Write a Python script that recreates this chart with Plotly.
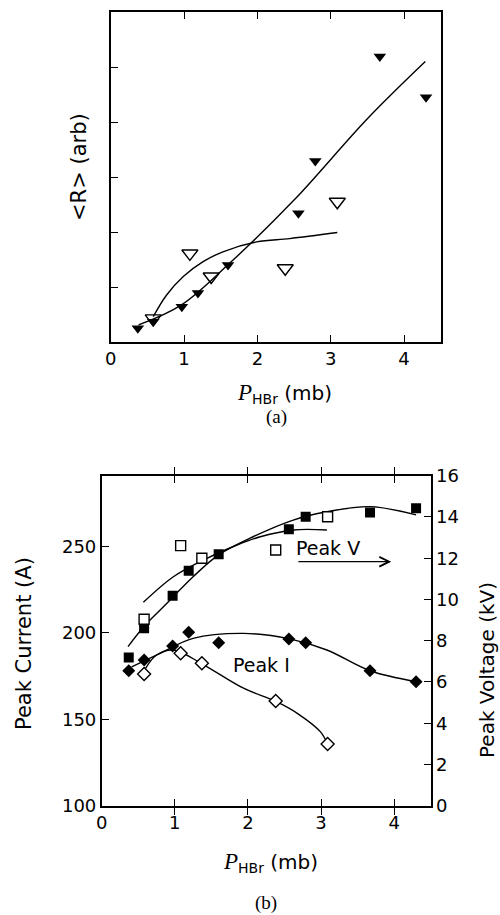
import plotly.graph_objects as go

# ---------------- data: panel (a) ----------------
p_filled = [0.37, 0.58, 0.97, 1.19, 1.60, 2.56, 2.79, 3.67, 4.30]
r_filled = [0.25, 0.37, 0.64, 0.89, 1.40, 2.34, 3.29, 5.19, 4.45]
p_open = [0.58, 1.08, 1.37, 2.38, 3.09]
r_open = [0.43, 1.61, 1.19, 1.34, 2.55]

# fitted curves
fit_rf_x = [0.38, 0.96, 1.62, 2.50, 3.50, 4.29]
fit_rf_y = [0.31, 0.67, 1.43, 2.58, 4.06, 5.10]
fit_ro_x = [0.58, 0.76, 0.99, 1.26, 1.53, 1.99, 2.44, 3.09]
fit_ro_y = [0.46, 0.85, 1.19, 1.46, 1.64, 1.82, 1.88, 1.99]

# ---------------- data: panel (b) ----------------
v_filled = [7.19, 8.60, 10.18, 11.39, 12.19, 13.40, 14.01, 14.22, 14.42]   # kV
v_open = [9.04, 12.61, 12.00, 12.40, 14.01]                                 # kV
i_filled = [178.0, 184.2, 192.3, 200.2, 194.2, 196.4, 194.2, 178.0, 171.7]  # A
i_open = [176.1, 188.1, 182.3, 160.5, 135.7]                                # A

fit_vf_x = [0.36, 0.58, 0.80, 0.97, 1.25, 1.60, 2.07, 2.62, 3.08, 3.67, 4.30]
fit_vf_y = [7.71, 8.70, 9.49, 10.10, 11.10, 12.16, 13.04, 13.85, 14.25, 14.50, 14.10]
fit_vo_x = [0.57, 0.98, 1.39, 1.85, 2.17, 2.62, 3.08]
fit_vo_y = [9.86, 11.10, 11.91, 12.64, 13.04, 13.37, 13.37]
fit_if_x = [0.41, 0.80, 1.25, 1.94, 2.57, 3.08, 3.67, 4.30]
fit_if_y = [180.3, 188.1, 196.7, 199.6, 196.4, 190.0, 178.0, 171.7]
fit_io_x = [0.60, 0.75, 0.98, 1.376, 1.94, 2.39, 2.71, 2.99, 3.09]
fit_io_y = [179.4, 187.1, 190.0, 181.9, 167.9, 160.1, 152.4, 142.8, 135.7]

x_ticks = [0, 1, 2, 3, 4]
i_ticks = [100, 150, 200, 250]
v_ticks = [0, 2, 4, 6, 8, 10, 12, 14, 16]

W, H = 500, 915
def px(x):
    return x / W
def py(y):
    return 1 - y / H

FONT = "DejaVu Sans ExtraLight, DejaVu Sans"
SERIF = "Liberation Serif"
line_style = dict(color="black", width=1.4)

fig = go.Figure()

# panel (a)
fig.add_trace(go.Scatter(x=fit_rf_x, y=fit_rf_y, mode="lines", line=dict(shape="spline", **line_style),
                         xaxis="x", yaxis="y", showlegend=False, hoverinfo="skip"))
fig.add_trace(go.Scatter(x=fit_ro_x, y=fit_ro_y, mode="lines", line=dict(shape="spline", **line_style),
                         xaxis="x", yaxis="y", showlegend=False, hoverinfo="skip"))
fig.add_trace(go.Scatter(x=p_filled, y=r_filled, mode="markers",
                         marker=dict(symbol="triangle-down", size=11, color="black"),
                         xaxis="x", yaxis="y", showlegend=False))
fig.add_trace(go.Scatter(x=p_open, y=r_open, mode="markers",
                         marker=dict(symbol="triangle-down-open", size=14, color="black", line=dict(width=1.4)),
                         xaxis="x", yaxis="y", showlegend=False))

# panel (b)
fig.add_trace(go.Scatter(x=fit_vf_x, y=fit_vf_y, mode="lines", line=dict(shape="spline", **line_style),
                         xaxis="x2", yaxis="y3", showlegend=False, hoverinfo="skip"))
fig.add_trace(go.Scatter(x=fit_vo_x, y=fit_vo_y, mode="lines", line=dict(shape="spline", **line_style),
                         xaxis="x2", yaxis="y3", showlegend=False, hoverinfo="skip"))
fig.add_trace(go.Scatter(x=fit_if_x, y=fit_if_y, mode="lines", line=dict(shape="spline", **line_style),
                         xaxis="x2", yaxis="y2", showlegend=False, hoverinfo="skip"))
fig.add_trace(go.Scatter(x=fit_io_x, y=fit_io_y, mode="lines", line=dict(shape="spline", **line_style),
                         xaxis="x2", yaxis="y2", showlegend=False, hoverinfo="skip"))
fig.add_trace(go.Scatter(x=p_filled, y=v_filled, mode="markers",
                         marker=dict(symbol="square", size=10, color="black"),
                         xaxis="x2", yaxis="y3", showlegend=False))
fig.add_trace(go.Scatter(x=p_open, y=v_open, mode="markers",
                         marker=dict(symbol="square", size=10, color="white", line=dict(width=1.4, color="black")),
                         xaxis="x2", yaxis="y3", showlegend=False))
fig.add_trace(go.Scatter(x=p_filled, y=i_filled, mode="markers",
                         marker=dict(symbol="diamond", size=10, color="black"),
                         xaxis="x2", yaxis="y2", showlegend=False))
fig.add_trace(go.Scatter(x=p_open, y=i_open, mode="markers",
                         marker=dict(symbol="diamond", size=10, color="white", line=dict(width=1.4, color="black")),
                         xaxis="x2", yaxis="y2", showlegend=False))

axis_common = dict(showline=True, linecolor="black", linewidth=1.6, ticks="inside", ticklen=7,
                   tickwidth=1.4, tickcolor="black", showgrid=False, zeroline=False, automargin=False,
                   tickfont=dict(family=FONT, size=18, color="black"))

fig.update_layout(
    width=W, height=H, margin=dict(l=0, r=0, t=0, b=0, pad=0, autoexpand=False),
    paper_bgcolor="white", plot_bgcolor="white",
    font=dict(family=FONT, color="black"),
    xaxis=dict(domain=[px(110.7), px(440.7)], range=[0, 4.5], anchor="y",
               tickvals=x_ticks, mirror="allticks", **axis_common),
    yaxis=dict(domain=[py(342), py(12)], range=[0, 6], anchor="x",
               tickvals=[1, 2, 3, 4, 5], showticklabels=False, mirror=True, **axis_common),
    xaxis2=dict(domain=[px(101.7), px(430.7)], range=[0, 4.5], anchor="y2",
                tickvals=x_ticks, mirror="allticks", **axis_common),
    yaxis2=dict(domain=[py(805.7), py(475.7)], range=[100, 290.75], anchor="x2",
                tickvals=i_ticks, mirror=True, **axis_common),
    yaxis3=dict(domain=[py(805.7), py(475.7)], range=[0, 16], anchor="x2", overlaying="y2", side="right",
                tickvals=v_ticks, **axis_common),
)

xt = '<span style="font-family:Liberation Serif;font-size:23px"><i>P</i></span><sub>HBr</sub> (mb)'
ann = [
    dict(text="&lt;R&gt; (arb)", x=px(79), y=py(167), textangle=-90, font=dict(size=21)),
    dict(text=xt, x=px(284), y=py(393), font=dict(size=20)),
    dict(text="(a)", x=px(276), y=py(417), font=dict(family=SERIF, size=19)),
    dict(text="Peak Current (A)", x=px(24), y=py(644), textangle=-90, font=dict(size=21)),
    dict(text="Peak Voltage (kV)", x=px(487), y=py(670), textangle=-90, font=dict(size=20)),
    dict(text=xt, x=px(270), y=py(862), font=dict(size=20)),
    dict(text="(b)", x=px(266), y=py(903), font=dict(family=SERIF, size=19)),
]
for a in ann:
    fig.add_annotation(xref="paper", yref="paper", showarrow=False, xanchor="center", yanchor="middle", **a)

fig.add_annotation(text="Peak V", x=3.09, y=12.49, xref="x2", yref="y3", showarrow=False,
                   font=dict(size=19))
fig.add_annotation(text="Peak I", x=2.19, y=181.3, xref="x2", yref="y2", showarrow=False,
                   font=dict(size=19))
fig.add_annotation(text="", x=3.96, y=11.83, ax=2.67, ay=11.83, xref="x2", yref="y3",
                   axref="x2", ayref="y3", showarrow=True, arrowhead=5, arrowsize=1.6,
                   arrowwidth=1.2, arrowcolor="black")

fig.write_html("out.html")
